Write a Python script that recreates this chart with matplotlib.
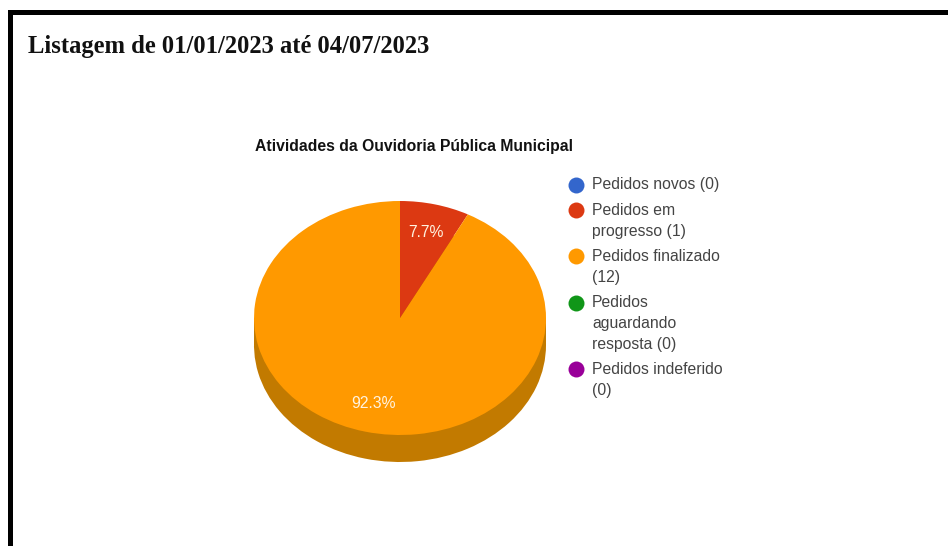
import matplotlib
matplotlib.use("Agg")
import matplotlib.pyplot as plt
from matplotlib.patches import Rectangle

W, H = 948, 546

heading = "Listagem de 01/01/2023 até 04/07/2023"
chart_title = "Atividades da Ouvidoria Pública Municipal"
categories = [
    "Pedidos novos (0)",
    "Pedidos em\nprogresso (1)",
    "Pedidos finalizado\n(12)",
    "Pedidos\naguardando\nresposta (0)",
    "Pedidos indeferido\n(0)",
]
values = [0, 1, 12, 0, 0]
colors = ["#3366cc", "#dc3912", "#ff9900", "#109618", "#990099"]
side_colors = ["#264d99", "#a52b0e", "#c27a00", "#0d7112", "#730073"]


def px_axes(x0, y0, x1, y1):
    # axes placed with pixel coords, y going down
    return fig.add_axes([x0 / W, 1 - y1 / H, (x1 - x0) / W, (y1 - y0) / H])


fig = plt.figure(figsize=(W / 100, H / 100), dpi=100, facecolor="white")

# page layer: border, heading, legend
bg = fig.add_axes([0, 0, 1, 1])
bg.set_xlim(0, W)
bg.set_ylim(H, 0)
bg.axis("off")
bg.add_patch(Rectangle((8, 10), W - 8, 4.5, color="black", lw=0))
bg.add_patch(Rectangle((8, 10), 5, H - 10, color="black", lw=0))
bg.text(28, 46, heading, family="Liberation Serif", weight="bold", fontsize=17.7,
        color="#111111", va="center", ha="left")
bg.text(255, 147, chart_title, family="Liberation Sans", weight="bold", fontsize=11.3,
        color="#111111", va="center", ha="left")

y = 185
for label, color in zip(categories, colors):
    bg.plot(576, y, "o", ms=11.5, color=color, mew=0)
    for line in label.split("\n"):
        bg.text(592, y, line, family="Liberation Sans", fontsize=11.3, color="#444444",
                va="center", ha="left")
        y += 20.8
    y += 4.5

# pie layer: the axes box is the top ellipse of the 3D pie
ax = px_axes(254, 201, 546, 435)
ax.patch.set_visible(False)
depth = 27 / 117
ax.pie(values, colors=side_colors, startangle=90, counterclock=False,
       center=(0, -depth), radius=1)
ax.add_patch(Rectangle((-1, -depth), 2, depth, color=side_colors[2], lw=0))
wedges, texts, autotexts = ax.pie(
    values, colors=colors, startangle=90, counterclock=False, radius=1,
    autopct=lambda p: f"{p:.1f}%" if p > 0 else "", pctdistance=0.75,
    textprops={"family": "Liberation Sans", "fontsize": 11.3, "color": "#fff3e0"},
)
ax.set_aspect("auto")
ax.set_xlim(-1, 1)
ax.set_ylim(-1, 1)
for artist in ax.patches + ax.texts:
    artist.set_clip_on(False)

fig.savefig("out.png", dpi=100)
